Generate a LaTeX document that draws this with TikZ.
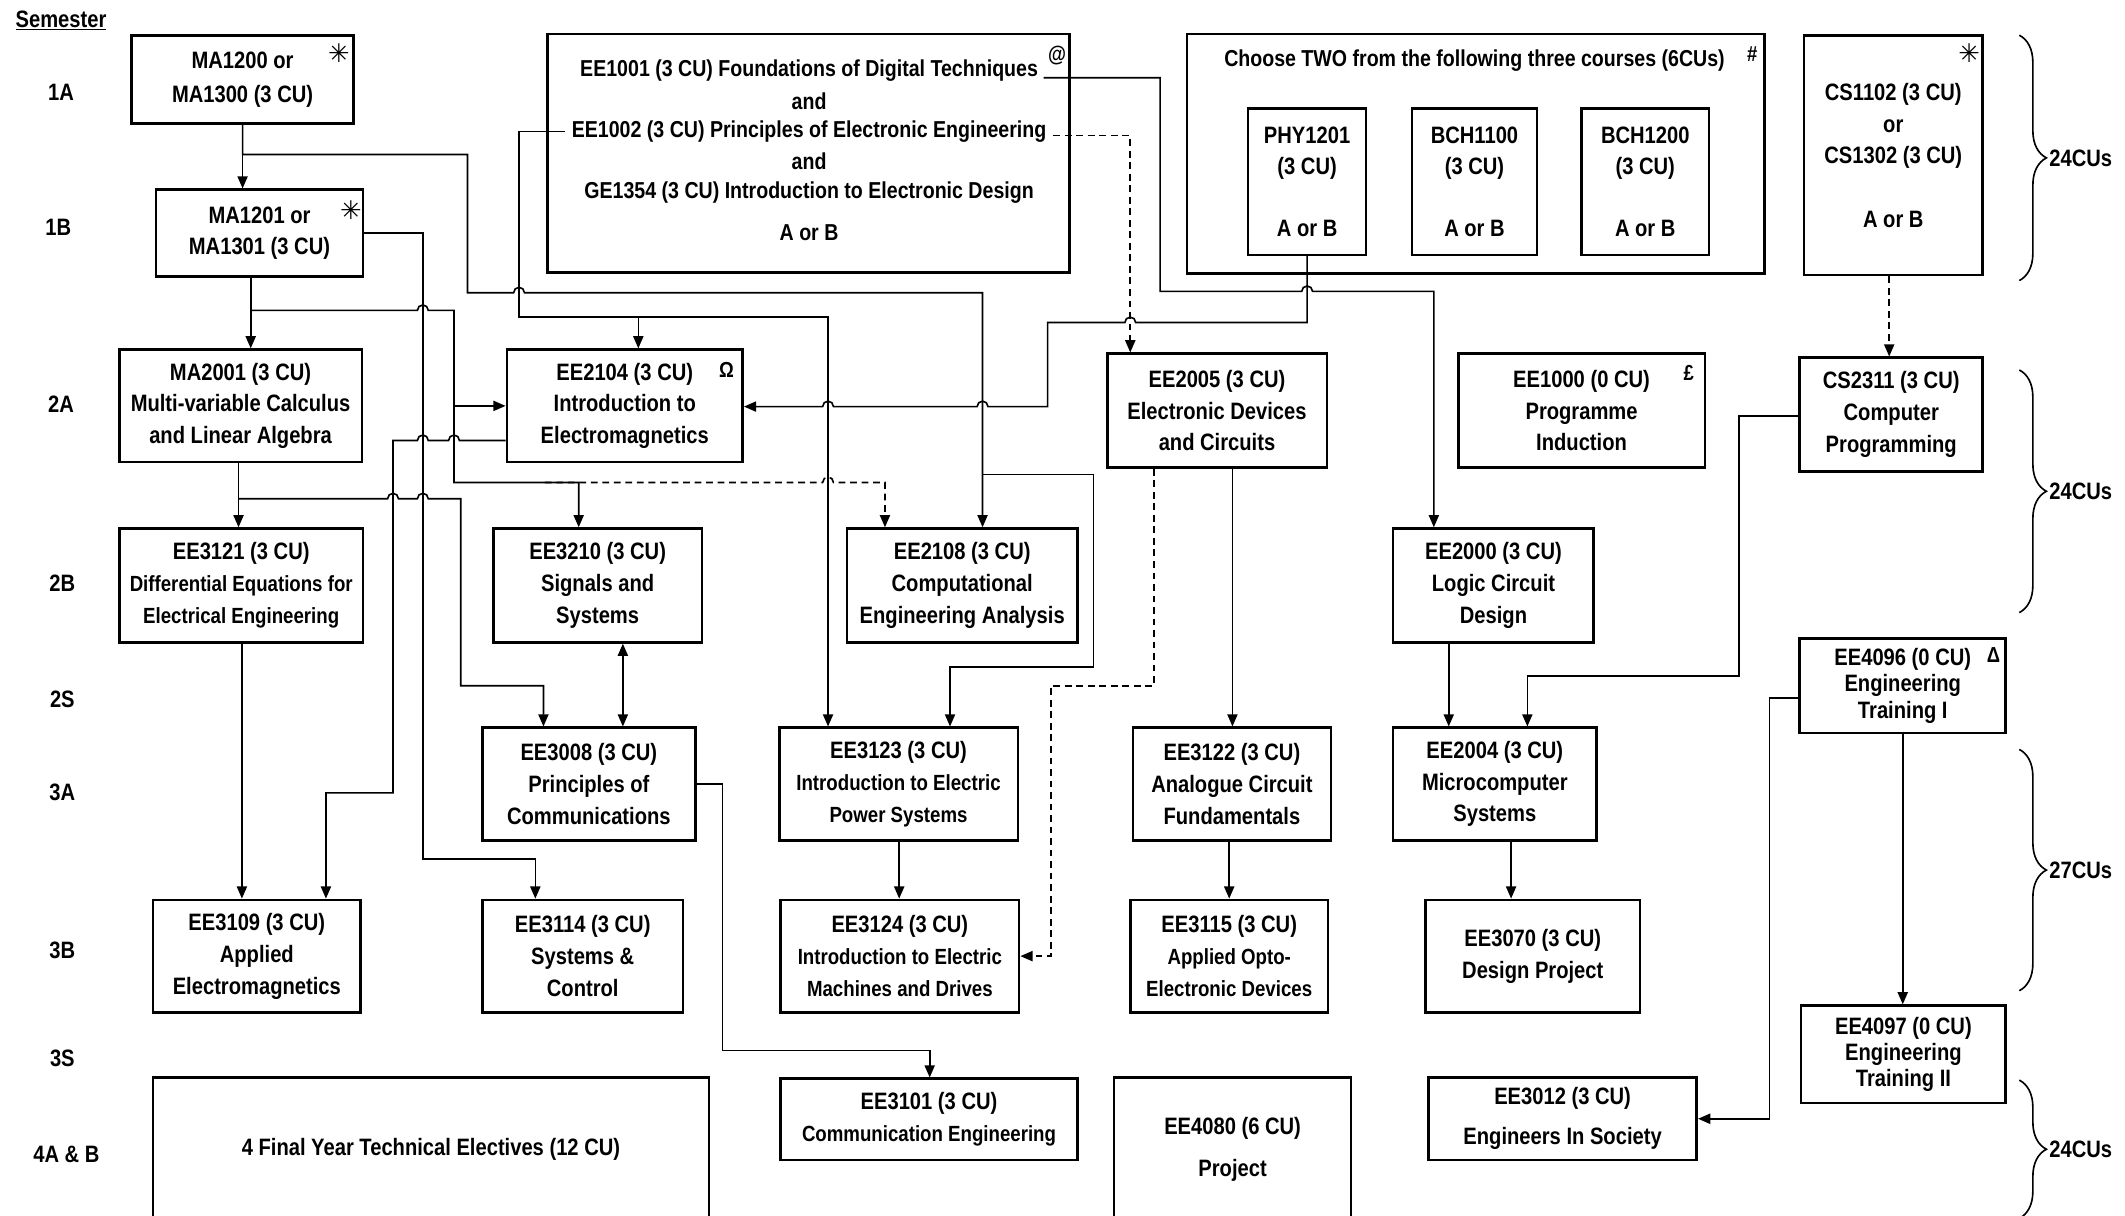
\documentclass[tikz,border=0pt]{standalone}
\usepackage{fontspec}
\setmainfont{Liberation Sans}[FakeStretch=0.85]
\newfontfamily\symf{DejaVu Sans}
\usetikzlibrary{arrows.meta,decorations.pathreplacing,calc}
\newcommand\myfont{\fontsize{17.5}{23.5}\selectfont\bfseries}
\newcommand\mysmall{\fontsize{16.2}{23.5}\selectfont\bfseries}
\newcommand\mylong{\fontsize{17}{23.5}\selectfont\bfseries}
\begin{document}
\begin{tikzpicture}[x=1pt,y=-1pt,
  box/.style={draw,line width=1.9pt,rectangle,inner sep=0pt,align=center,font=\myfont},
  txt/.style={inner sep=0pt,align=center,font=\myfont},
  ltxt/.style={inner sep=0pt,align=center,font=\mylong},
  sym/.style={inner sep=0pt,font=\fontsize{16}{16}\selectfont\bfseries},
  conn/.style={line width=1.2pt},
  arr/.style={conn,-{Triangle[length=9pt,width=7.5pt]}},
  darr/.style={arr,dash pattern=on 5pt off 3.5pt},
  brc/.style={line width=1.2pt,decorate,decoration={brace,amplitude=20pt}},
]
\useasboundingbox (0,0) rectangle (1568,897);

% semester labels
\node[txt] (sem) at (45,15) {\underline{Semester}};
\node[txt] (s1a) at (45,68) {1A};
\node[txt] (s1b) at (43,168) {1B};
\node[txt] (s2a) at (45,298) {2A};
\node[txt] (s2b) at (46,430) {2B};
\node[txt] (s2s) at (46,516) {2S};
\node[txt] (s3a) at (46,585) {3A};
\node[txt] (s3b) at (46,701) {3B};
\node[txt] (s3s) at (46,781) {3S};
\node[txt] (s4ab) at (49,852) {4A \& B};

% row 1
\node[box,minimum width=164pt,minimum height=65pt] (ma1200) at (179,58.5) {MA1200 or\\[1.5pt]MA1300 (3 CU)};
\node[box,minimum width=153pt,minimum height=64pt] (ma1201) at (191.5,172) {MA1201 or\\MA1301 (3 CU)};
\node[box,minimum width=385pt,minimum height=176pt] (ee1001box) at (596.5,113) {};
\node[ltxt] (t1001) at (597,52) {EE1001 (3 CU) Foundations of Digital Techniques};
\node[ltxt] (tand1) at (597,75) {and};
\node[ltxt] (t1002) at (597,97) {EE1002 (3 CU) Principles of Electronic Engineering};
\node[ltxt] (tand2) at (597,119) {and};
\node[ltxt] (t1354) at (597,142) {GE1354 (3 CU) Introduction to Electronic Design};
\node[ltxt] (taorb) at (597,172) {A or B};

\node[box,minimum width=426pt,minimum height=177pt] (choose) at (1089,113.5) {};
\node[ltxt] (ttitle) at (1088,45) {Choose TWO from the following three courses (6CUs)};
\node[box,minimum width=87pt,minimum height=108pt] (phy) at (964.5,134) {PHY1201\\(3 CU)\\[22pt]A or B};
\node[box,minimum width=92pt,minimum height=108pt] (bch1100) at (1088,134) {BCH1100\\(3 CU)\\[22pt]A or B};
\node[box,minimum width=94pt,minimum height=108pt] (bch1200) at (1214,134) {BCH1200\\(3 CU)\\[22pt]A or B};
\node[box,minimum width=132pt,minimum height=177pt] (cs1102) at (1397,114.5) {CS1102 (3 CU)\\or\\CS1302 (3 CU)\\[23pt]A or B};

% row 2A
\node[box,minimum width=179pt,minimum height=83pt] (ma2001) at (177.5,299.5) {MA2001 (3 CU)\\Multi-variable Calculus\\and Linear Algebra};
\node[box,minimum width=174pt,minimum height=83pt] (ee2104) at (461,299.5) {EE2104 (3 CU)\\Introduction to\\Electromagnetics};
\node[box,minimum width=162pt,minimum height=84pt] (ee2005) at (898,303) {EE2005 (3 CU)\\Electronic Devices\\and Circuits};
\node[box,minimum width=182pt,minimum height=84pt] (ee1000) at (1167,303) {EE1000 (0 CU)\\Programme\\Induction};
\node[box,minimum width=135pt,minimum height=84pt] (cs2311) at (1395.5,306) {CS2311 (3 CU)\\Computer\\Programming};

% row 2B
\node[box,minimum width=180pt,minimum height=84pt] (ee3121) at (178,432) {EE3121 (3 CU)\\{\mysmall Differential Equations for}\\{\mysmall Electrical Engineering}};
\node[box,minimum width=154pt,minimum height=84pt] (ee3210) at (441,432) {EE3210 (3 CU)\\Signals and\\Systems};
\node[box,minimum width=170pt,minimum height=84pt] (ee2108) at (710,432) {EE2108 (3 CU)\\Computational\\Engineering Analysis};
\node[box,minimum width=148pt,minimum height=84pt] (ee2000) at (1102,432) {EE2000 (3 CU)\\Logic Circuit\\Design};
\node[box,minimum width=152pt,minimum height=70pt] (ee4096) at (1404,506) {EE4096 (0 CU)\\[-4pt]Engineering\\[-4pt]Training I};

% row 3A
\node[box,minimum width=157pt,minimum height=83pt] (ee3008) at (434.5,578.5) {EE3008 (3 CU)\\Principles of\\Communications};
\node[box,minimum width=176pt,minimum height=83pt] (ee3123) at (663,578.5) {EE3123 (3 CU)\\{\mysmall Introduction to Electric}\\{\mysmall Power Systems}};
\node[box,minimum width=146pt,minimum height=83pt] (ee3122) at (909,578.5) {EE3122 (3 CU)\\Analogue Circuit\\Fundamentals};
\node[box,minimum width=150pt,minimum height=83pt] (ee2004) at (1103,578.5) {EE2004 (3 CU)\\Microcomputer\\Systems};

% row 3B
\node[box,minimum width=153pt,minimum height=83pt] (ee3109) at (189.5,705.5) {EE3109 (3 CU)\\Applied\\Electromagnetics};
\node[box,minimum width=148pt,minimum height=83pt] (ee3114) at (430,705.5) {EE3114 (3 CU)\\Systems \&\\Control};
\node[box,minimum width=176pt,minimum height=83pt] (ee3124) at (664,705.5) {EE3124 (3 CU)\\{\mysmall Introduction to Electric}\\{\mysmall Machines and Drives}};
\node[box,minimum width=146pt,minimum height=83pt] (ee3115) at (907,705.5) {EE3115 (3 CU)\\{\mysmall Applied Opto-}\\{\mysmall Electronic Devices}};
\node[box,minimum width=158pt,minimum height=83pt] (ee3070) at (1131,705.5) {EE3070 (3 CU)\\Design Project};
\node[box,minimum width=151pt,minimum height=72pt] (ee4097) at (1404.5,778) {EE4097 (0 CU)\\[-4pt]Engineering\\[-4pt]Training II};

% row 4
\node[box,minimum width=410pt,minimum height=106pt] (elect) at (318,848) {4 Final Year Technical Electives (12 CU)};
\node[box,minimum width=219pt,minimum height=60pt] (ee3101) at (685.5,826) {EE3101 (3 CU)\\{\mysmall Communication Engineering}};
\node[box,minimum width=175pt,minimum height=106pt] (ee4080) at (909.5,848) {EE4080 (6 CU)\\[7pt]Project};
\node[box,minimum width=198pt,minimum height=61pt] (ee3012) at (1153,825.5) {EE3012 (3 CU)\\[6pt]Engineers In Society};

% symbols
\node[sym] (ast1) at (250,39) {\symf\fontsize{19}{19}\selectfont ✳};
\node[sym] (ast2) at (259,155) {\symf\fontsize{19}{19}\selectfont ✳};
\node[sym] (ast3) at (1453,39) {\symf\fontsize{19}{19}\selectfont ✳};
\node[sym] (at1) at (780,41) {@};
\node[sym] (hash1) at (1293,40) {\#};
\node[sym] (omega1) at (536,273) {Ω};
\node[sym] (pound1) at (1246,275) {£};
\node[sym] (delta1) at (1471,483) {Δ};

% braces
\draw[brc] (1490,26) -- (1490,207);
\node[txt,anchor=west] (cu1) at (1512,116.5) {24CUs};
\draw[brc] (1490,273) -- (1490,452);
\node[txt,anchor=west] (cu2) at (1512,362.5) {24CUs};
\draw[brc] (1490,553) -- (1490,731);
\node[txt,anchor=west] (cu3) at (1512,642) {27CUs};
\draw[brc] (1490,797) -- (1490,899);
\node[txt,anchor=west] (cu4) at (1512,848) {24CUs};

% connectors
\draw[arr] (ma1200.south) -- (ma1200.south |- ma1201.north);
\draw[arr] (ma1200.south) -- (179,114) -- (345,114) -- (345,216) -- (379,216) arc[start angle=180,end angle=0,radius=4pt] -- (725,216) -- (725,0 |- ee2108.north);
\draw[arr] (725,350) -- (807,350) -- (807,492) -- (701,492) -- (701,0 |- ee3123.north);

\draw[arr] (phy.south) -- (964.5,238) -- (838,238) arc[start angle=0,end angle=180,radius=4pt] -- (773,238) -- (773,300) -- (729,300) arc[start angle=0,end angle=180,radius=4pt] -- (615,300) arc[start angle=0,end angle=180,radius=4pt] -- (ee2104.east |- 0,300);

\draw[arr] ($(t1001.base east)+(4,1)$) -| (856,215) -- (960.5,215) arc[start angle=180,end angle=0,radius=4pt] -- (1058,215) -- (1058,0 |- ee2000.north);

\draw[darr] ($(t1002.east)+(5,3)$) -| (834,0 |- ee2005.north);

\draw[arr] ($(t1002.west)+(-5,0)$) -| (383,234) -- (611,234) -- (611,0 |- ee3123.north);
\draw[arr] (471,234) -- (471,0 |- ee2104.north);

\draw[arr] (ma1201.east) -- (312,172) -- (312,634) -- (395,634) -- (395,0 |- ee3114.north);

\draw[arr] (185,0 |- ma1201.south) -- (185,0 |- ma2001.north);
\draw[arr] (185,229) -- (308,229) arc[start angle=180,end angle=0,radius=4pt] -- (335,229) -- (335,356) -- (427,356) -- (427,0 |- ee3210.north);
\draw[arr] (335,299.5) -- (ee2104.west);
\draw[darr] (402,356) -- (607,356) arc[start angle=180,end angle=0,radius=4pt] -- (653,356) -- (653,0 |- ee2108.north);

\draw[arr] (ee2104.west |- 0,325) -- (339,325) arc[start angle=0,end angle=180,radius=4pt] -- (316,325) arc[start angle=0,end angle=180,radius=4pt] -- (290,325) -- (290,585) -- (240.5,585) -- (240.5,0 |- ee3109.north);

\draw[arr] (176,0 |- ma2001.south) -- (176,0 |- ee3121.north);
\draw[arr] (176,368) -- (286,368) arc[start angle=180,end angle=0,radius=4pt] -- (308,368) arc[start angle=180,end angle=0,radius=4pt] -- (340,368) -- (340,506) -- (401,506) -- (401,0 |- ee3008.north);

\draw[arr] (178.5,0 |- ee3121.south) -- (178.5,0 |- ee3109.north);
\draw[conn,{Triangle[length=9pt,width=7.5pt]}-{Triangle[length=9pt,width=7.5pt]}] (459.6,0 |- ee3210.south) -- (459.6,0 |- ee3008.north);
\draw[arr] (ee3008.east) -- (533,578.5) -- (533,775) -- (686,775) -- (686,0 |- ee3101.north);
\draw[arr] (663.5,0 |- ee3123.south) -- (663.5,0 |- ee3124.north);
\draw[darr] (851.6,0 |- ee2005.south) -- (851.6,506) -- (775.6,506) -- (775.6,705.5) -- (ee3124.east);
\draw[arr] (909.4,0 |- ee2005.south) -- (909.4,0 |- ee3122.north);
\draw[arr] (907,0 |- ee3122.south) -- (907,0 |- ee3115.north);
\draw[arr] (1069,0 |- ee2000.south) -- (1069,0 |- ee2004.north);
\draw[arr] (cs2311.west |- 0,307) -- (1283,307) -- (1283,499) -- (1127,499) -- (1127,0 |- ee2004.north);
\draw[arr] (1115,0 |- ee2004.south) -- (1115,0 |- ee3070.north);
\draw[darr] (1394,0 |- cs1102.south) -- (1394,0 |- cs2311.north);
\draw[arr] (1404,0 |- ee4096.south) -- (1404,0 |- ee4097.north);
\draw[arr] (ee4096.west |- 0,515) -- (1305.7,515) -- (1305.7,825.5) -- (ee3012.east);
\end{tikzpicture}
\end{document}
